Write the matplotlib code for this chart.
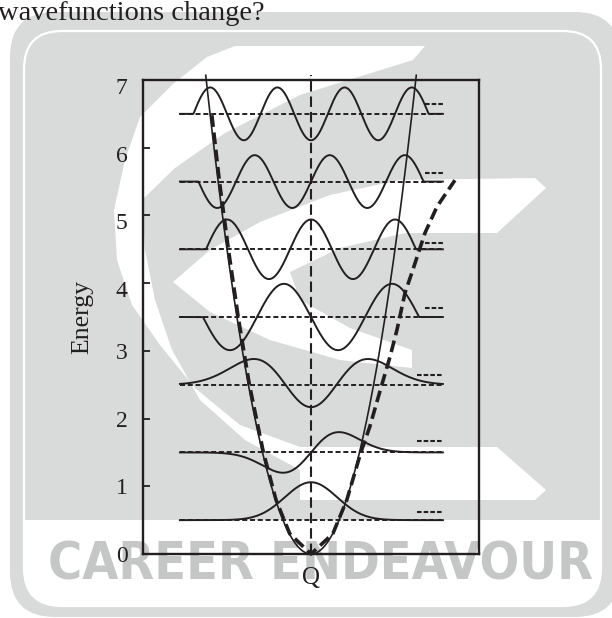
import numpy as np
import matplotlib
matplotlib.use('Agg')
import matplotlib.pyplot as plt
from matplotlib.patches import FancyBboxPatch, Rectangle, Polygon
from matplotlib import font_manager as fm
import matplotlib.transforms as mtransforms
from numpy.polynomial import hermite

plt.rcParams['lines.scale_dashes'] = False

# ---------------- data ----------------
quantum_numbers = [0, 1, 2, 3, 4, 5, 6]
level_energies = [0.5, 1.5, 2.5, 3.5, 4.5, 5.5, 6.5]
wave_amplitudes = [0.56, 0.30, 0.38, 0.49, 0.44, 0.39, 0.39]
# Gaussian length scale for n<=2, half-period of oscillation for n>=3
wave_widths = [0.93, 1.0, 1.29, 1.93, 1.5, 1.34, 1.2]

anharm_x = [-3.54, -3.27, -2.95, -2.6, -2.2, -1.7, -1.25, -0.76, 0.0,
            0.78, 1.28, 1.78, 2.1, 2.46, 2.82, 3.07, 3.36, 3.64, 4.07, 4.5, 5.14]
anharm_E = [6.48, 5.5, 4.5, 3.5, 2.5, 1.5, 0.8, 0.3, 0.0,
            0.3, 0.8, 1.5, 1.88, 2.4, 2.91, 3.31, 3.86, 4.2, 4.74, 5.13, 5.52]

mark_E = [0.62, 1.67, 2.64, 3.63, 4.59, 5.63, 6.64]
mark_x0 = [3.79, 3.79, 3.79, 4.07, 4.07, 4.07, 4.07]
mark_x1 = 4.71

line_x_left, line_x_right = -4.68, 4.71
ytick_values = [0, 1, 2, 3, 4, 5, 6, 7]
ytick_labels = ['0', '1', '2', '3', '4', '5', '6', '7']

ink = '#231f20'
grey = '#d9dbda'
wm_text = '#c5c6c6'

W, H = 612, 618
fig = plt.figure(figsize=(W / 100, H / 100), dpi=100)
fig.patch.set_facecolor('white')

# ---------------- watermark background ----------------
bg = fig.add_axes([0, 0, 1, 1], zorder=-10)
bg.set_xlim(0, W)
bg.set_ylim(H, 0)
bg.axis('off')
bg.add_patch(FancyBboxPatch((10, 12), 610, 605, boxstyle="round,pad=0,rounding_size=45",
                            fc=grey, ec='none'))
clipbox = FancyBboxPatch((24, 31), 577, 575, boxstyle="round,pad=0,rounding_size=38",
                         fc='none', ec='none', transform=bg.transData)
low = Rectangle((24, 520), 577, 86, fc='white', ec='none')
bg.add_patch(low)
low.set_clip_path(clipbox)

# outer white crescent of the logo (merging into the lower bar)
c1_poly = [(425, 46), (235, 46), (207, 57), (173, 84), (140, 117), (125, 160), (114, 210),
           (117, 260), (132, 305), (160, 345), (195, 388), (240, 425), (300, 447),
           (497, 447), (546, 490), (535, 500), (300, 500), (300, 470), (245, 440),
           (200, 400), (172, 350), (155, 300), (145, 250), (142, 200), (175, 168),
           (225, 133), (300, 95), (413, 60)]
bg.add_patch(Polygon(c1_poly, closed=True, fc='white', ec='none'))
# inner white crescent (merging into the upper bar)
c2_poly = [(173, 282), (210, 250), (260, 222), (330, 195), (400, 180), (535, 178),
           (546, 188), (497, 233), (405, 233), (340, 248), (290, 272), (300, 300),
           (350, 328), (412, 350), (412, 368), (340, 360), (270, 340), (210, 312)]
bg.add_patch(Polygon(c2_poly, closed=True, fc='white', ec='none'))
bg.add_patch(FancyBboxPatch((24, 31), 577, 575, boxstyle="round,pad=0,rounding_size=38",
                            fc='none', ec='white', lw=1.6))


def pick_condensed():
    best, best_score = None, -1
    for f in fm.fontManager.ttflist:
        key = (f.fname + ' ' + f.name).lower().replace(' ', '').replace('-', '')
        if ('condensed' in key or 'narrow' in key) and 'italic' not in key \
                and 'oblique' not in key and 'mono' not in key:
            score = 1
            w = f.weight if isinstance(f.weight, int) else 400
            if 500 <= w <= 700:
                score += 2
            if 'semicondensed' not in key:
                score += 1
            if score > best_score:
                best, best_score = f, score
    return best


cf = pick_condensed()
if cf is not None:
    wm_fp = fm.FontProperties(fname=cf.fname)
else:
    wm_fp = fm.FontProperties(family='Roboto', weight='bold')
wm = bg.text(320, 566, 'CAREER ENDEAVOUR', ha='center', va='center',
             fontproperties=wm_fp, color=wm_text)
wm.set_fontsize(60)
fig.canvas.draw()
ext = wm.get_window_extent()
wm.set_fontsize(60 * 545 / ext.width)

fig.text(-0.003, 1 - 20 / H, 'wavefunctions change?', ha='left', va='baseline',
         fontsize=20.5, family='Liberation Serif', color=ink)

# ---------------- main axes ----------------
ax = fig.add_axes([143 / W, (H - 554) / H, (479 - 143) / W, (554 - 80) / H])
ax.patch.set_alpha(0)
ax.set_xlim(-6, 6)
ax.set_ylim(0, 7)
for s in ax.spines.values():
    s.set_linewidth(1.7)
    s.set_color(ink)
ax.set_xticks([])
ax.set_yticks(ytick_values)
ax.set_yticklabels(ytick_labels, family='Liberation Serif', fontsize=17, color=ink)
ax.tick_params(axis='y', direction='in', length=5, width=1.3, color=ink, pad=11)
ax.set_ylabel('Energy', family='Liberation Serif', fontsize=18.5, color=ink, labelpad=16)
ax.set_xlabel('Q', family='Liberation Serif', fontsize=18, color=ink, labelpad=9)
for lab, v in zip(ax.get_yticklabels(), ytick_values):
    if v >= 4:
        lab.set_transform(lab.get_transform() +
                          mtransforms.ScaledTranslation(0, -6 / 100, fig.dpi_scale_trans))

xg = np.linspace(line_x_left, line_x_right, 2000)

# energy level dashed lines
for E in level_energies:
    ax.plot([line_x_left, line_x_right], [E, E], color=ink, lw=1.4,
            linestyle=(0, (3.6, 2.0)), zorder=2)

# wavefunctions
for n, E, A, w in zip(quantum_numbers, level_energies, wave_amplitudes, wave_widths):
    if n <= 2:
        u = xg / w
        c = np.zeros(n + 1)
        c[n] = 1
        psi = hermite.hermval(u, c) * np.exp(-u ** 2 / 2)
        psi = psi / np.max(np.abs(psi))
    else:
        L = (n + 1) * w
        psi = np.where(np.abs(xg) <= L / 2,
                       (-1) ** n * np.sin(np.pi * (xg + L / 2) / w), 0.0)
    ax.plot(xg, E + A * psi, color=ink, lw=1.4, zorder=3, solid_joinstyle='round')

# harmonic potential
Emax = 7.07
xp = np.linspace(-np.sqrt(2 * Emax), np.sqrt(2 * Emax), 400)
ax.plot(xp, 0.5 * xp ** 2, color=ink, lw=1.2, zorder=4, clip_on=False)

# anharmonic potential (thick dashed)
ax.plot(anharm_x, anharm_E, color=ink, lw=2.6, linestyle=(0, (8.5, 4.0)),
        zorder=4, clip_on=False)

# vertical dashed line at Q = 0
ax.plot([0, 0], [0, Emax], color=ink, lw=1.5, linestyle=(0, (7.5, 3.6)),
        zorder=4, clip_on=False)

# short dashed marks on the right
for E, x0 in zip(mark_E, mark_x0):
    ax.plot([x0, mark_x1], [E, E], color=ink, lw=1.5,
            linestyle=(0, (3.3, 1.5)), zorder=4)

fig.savefig('out.png', dpi=100)
